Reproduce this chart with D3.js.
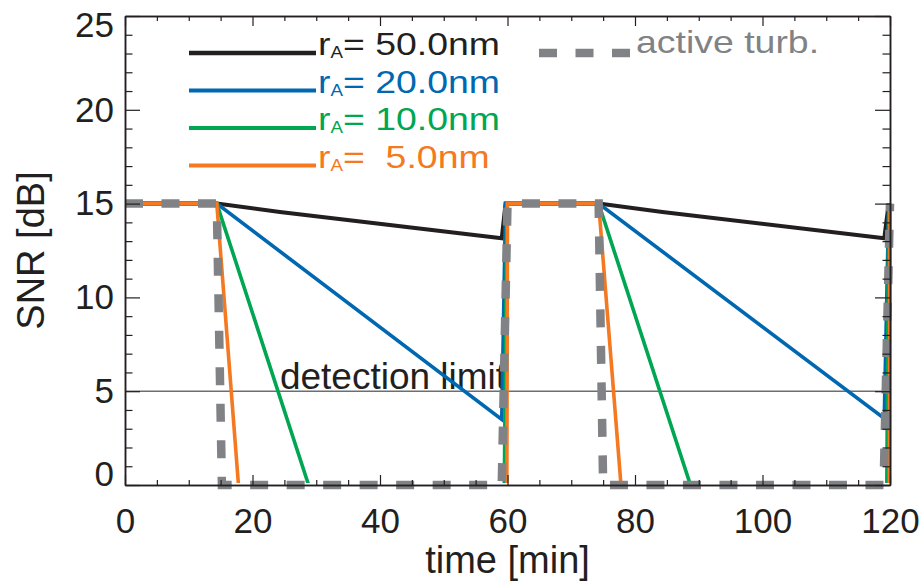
<!DOCTYPE html>
<html><head><meta charset="utf-8">
<script src="https://cdn.jsdelivr.net/npm/d3@7"></script>
<style>body{margin:0;background:#fff}text{font-family:"Liberation Sans",Arial,sans-serif;white-space:pre}</style>
</head><body>
<svg id="c" width="924" height="581"></svg>
<script>
// ---- data (time [min], SNR [dB]) ----
const seriesNames = ["50.0nm", "20.0nm", "10.0nm", " 5.0nm"];
const black50 = [[0,15],[14.4,15],[24.3,14.55],[59.1,13.15],[59.7,15],[74.3,15],[84.3,14.55],[119.1,13.15],[119.8,15]];
const blue20 = [[0,15],[14.4,15],[59.1,3.5],[59.7,15],[74.3,15],[119.1,3.55],[119.8,15]];
const green10 = [[0,15],[14.4,15],[28.8,0],[59.5,0],[59.9,15],[74.3,15],[88.7,0],[119.5,0],[119.8,15]];
const orange5 = [[0,15],[14.4,15],[17.8,0],[59.9,0],[60.0,15],[74.3,15],[77.8,0],[119.9,0],[120,15]];
const activeTurb = [[0,15],[14.4,15],[15.2,0],[59.1,0],[60.0,15],[74.3,15],[75.0,0],[119.0,0],[120,15]];
const detectionLimit = 5;
const xTicks = [0,20,40,60,80,100,120];
const xMinor = [5,10,15,25,30,35,45,50,55,65,70,75,85,90,95,105,110,115];
const yTicks = [0,5,10,15,20,25];
const yMinor = [1,2,3,4,6,7,8,9,11,12,13,14,16,17,18,19,21,22,23,24];

const colors = ["#231f20","#0067b1","#00a651","#f47920"];
const gray = "#808285";
const series = [black50, blue20, green10, orange5];

const svg = d3.select("#c");
const x = d3.scaleLinear().domain([0,120]).range([125,890]);
const y = d3.scaleLinear().domain([0,25]).range([485,16]);

svg.append("defs").append("clipPath").attr("id","clipB")
  .append("rect").attr("x",0).attr("y",0).attr("width",924).attr("height",y(0)-1.9);

// detection limit
svg.append("line").attr("x1",x(0)).attr("x2",x(120)).attr("y1",y(detectionLimit)).attr("y2",y(detectionLimit))
  .attr("stroke","#6d6e71").attr("stroke-width",1.5);
svg.append("text").attr("x",x(24.3)).attr("y",y(detectionLimit)-2.5)
  .attr("font-size",37).attr("fill","#231f20").text("detection limit");

const line = d3.line().x(d=>x(d[0])).y(d=>y(d[1]));
svg.append("g").attr("clip-path","url(#clipB)").selectAll("path").data(series).join("path")
  .attr("d",line).attr("fill","none")
  .attr("stroke",(d,i)=>colors[i]).attr("stroke-width",(d,i)=>i===0?4:3.6);

svg.append("path").datum(activeTurb).attr("d",line).attr("fill","none")
  .attr("stroke",gray).attr("stroke-width",8.5).attr("stroke-dasharray","18,18.5");

// axes
function styleAxis(g){
  g.selectAll(".domain").attr("stroke","#231f20").attr("stroke-width",1.5);
  g.selectAll(".tick line").attr("stroke","#231f20").attr("stroke-width",1.2);
}
const bottom = svg.append("g").attr("transform",`translate(0,${y(0)})`)
  .call(d3.axisBottom(x).tickValues(xTicks).tickSize(-10).tickSizeOuter(0).tickPadding(23).tickFormat(d3.format("d")));
bottom.selectAll("text").attr("font-size",35).attr("fill","#231f20").attr("font-family","Liberation Sans, Arial, sans-serif");
svg.append("g").attr("transform",`translate(0,${y(0)})`)
  .call(d3.axisBottom(x).tickValues(xMinor).tickSize(-5).tickSizeOuter(0).tickFormat(""));
svg.append("g").attr("transform",`translate(0,${y(25)})`)
  .call(d3.axisTop(x).tickValues(xTicks).tickSize(-10).tickSizeOuter(0).tickFormat(""));
svg.append("g").attr("transform",`translate(0,${y(25)})`)
  .call(d3.axisTop(x).tickValues(xMinor).tickSize(-5).tickSizeOuter(0).tickFormat(""));
const left = svg.append("g").attr("transform",`translate(${x(0)},0)`)
  .call(d3.axisLeft(y).tickValues(yTicks).tickSize(-15).tickSizeOuter(0).tickPadding(11).tickFormat(d3.format("d")));
left.selectAll("text").attr("font-size",35).attr("fill","#231f20").attr("font-family","Liberation Sans, Arial, sans-serif")
  .attr("dy",d=>d===0?"0px":(d===25?"20px":"0.32em"));
svg.append("g").attr("transform",`translate(${x(0)},0)`)
  .call(d3.axisLeft(y).tickValues(yMinor).tickSize(-7.5).tickSizeOuter(0).tickFormat(""));
svg.append("g").attr("transform",`translate(${x(120)},0)`)
  .call(d3.axisRight(y).tickValues(yTicks).tickSize(-15).tickSizeOuter(0).tickFormat(""));
svg.append("g").attr("transform",`translate(${x(120)},0)`)
  .call(d3.axisRight(y).tickValues(yMinor).tickSize(-7.5).tickSizeOuter(0).tickFormat(""));
svg.selectAll("g").each(function(){ styleAxis(d3.select(this)); });

// axis titles
svg.append("text").attr("x",(x(0)+x(120))/2).attr("y",573).attr("text-anchor","middle")
  .attr("font-size",38).attr("fill","#231f20").text("time [min]");
svg.append("text").attr("transform",`translate(44,${(y(0)+y(25))/2}) rotate(-90)`).attr("text-anchor","middle")
  .attr("font-size",38).attr("fill","#231f20").text("SNR [dB]");

// legend
const leg = svg.append("g");
seriesNames.forEach((name,i)=>{
  const by = 55 + i*37.5;
  leg.append("line").attr("x1",189).attr("x2",316).attr("y1",by-2).attr("y2",by-2)
    .attr("stroke",colors[i]).attr("stroke-width",i===0?4.5:4);
  const t = leg.append("text").attr("transform",`translate(318,${by}) scale(1.17,1)`)
    .attr("font-size",32).attr("fill",colors[i]);
  t.append("tspan").text("r");
  t.append("tspan").attr("font-size",16).attr("dy",3).text("A");
  t.append("tspan").attr("dy",-3).text("= " + name);
});
leg.append("line").attr("x1",539).attr("x2",631).attr("y1",53).attr("y2",53)
  .attr("stroke",gray).attr("stroke-width",8.5).attr("stroke-dasharray","18,18.5");
leg.append("text").attr("transform","translate(636,53) scale(1.17,1)")
  .attr("font-size",32).attr("fill",gray).text("active turb.");
</script>
</body></html>
